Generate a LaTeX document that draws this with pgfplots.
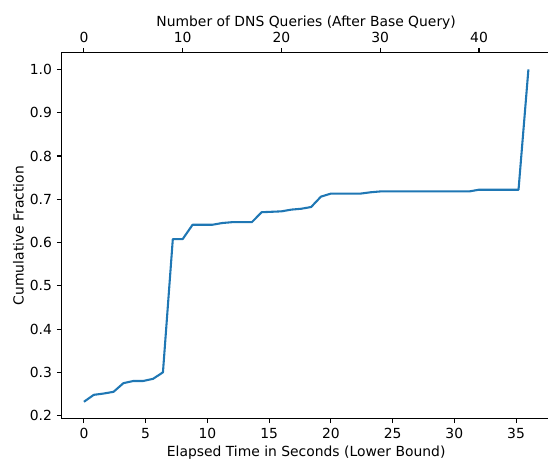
\documentclass[border=0pt]{standalone}
\usepackage{fontspec}
\setmainfont{DejaVu Sans}
\usepackage{pgfplots}
\pgfplotsset{compat=1.18}
\usepackage{pgfplotstable}
\definecolor{mplblue}{HTML}{1F77B4}

\pgfplotstableread{
q t y
0 0.0 0.232
1 0.8 0.248
2 1.6 0.251
3 2.4 0.255
4 3.2 0.275
5 4.0 0.280
6 4.8 0.280
7 5.6 0.285
8 6.4 0.300
9 7.2 0.608
10 8.0 0.608
11 8.8 0.641
12 9.6 0.641
13 10.4 0.641
14 11.2 0.645
15 12.0 0.647
16 12.8 0.647
17 13.6 0.647
18 14.4 0.670
19 15.2 0.671
20 16.0 0.672
21 16.8 0.676
22 17.6 0.678
23 18.4 0.682
24 19.2 0.706
25 20.0 0.713
26 20.8 0.713
27 21.6 0.713
28 22.4 0.713
29 23.2 0.716
30 24.0 0.718
31 24.8 0.718
32 25.6 0.718
33 26.4 0.718
34 27.2 0.718
35 28.0 0.718
36 28.8 0.718
37 29.6 0.718
38 30.4 0.718
39 31.2 0.718
40 32.0 0.722
41 32.8 0.722
42 33.6 0.722
43 34.4 0.722
44 35.2 0.722
45 36.0 1.000
}\data

\begin{document}
\begin{tikzpicture}
\pgfplotsset{
  common/.style={
    scale only axis, width=352pt, height=263.2pt,
    tick align=outside,
    major tick length=3.5pt,
    every tick/.style={line width=0.8pt, black},
    axis line style={line width=0.8pt},
    tick label style={font=\fontsize{10}{12}\selectfont},
    label style={font=\fontsize{10}{12}\selectfont},
    /pgf/number format/assume math mode=true,
  }
}
\begin{axis}[
  common,
  xmin=-1.8, xmax=37.8, ymin=0.1936, ymax=1.0384,
  xtick pos=lower, ytick pos=left,
  xtick={0,5,...,35},
  ytick={0.2,0.3,...,1.0},
  yticklabel style={/pgf/number format/.cd, fixed, fixed zerofill, precision=1},
  xlabel={Elapsed Time in Seconds (Lower Bound)},
  xlabel style={at={(axis description cs:0.5,-0.103)}, anchor=base},
  ylabel={Cumulative Fraction},
  ylabel style={at={(axis description cs:-0.0676,0.5)}, anchor=south, rotate=0},
]
\addplot[color=mplblue, line width=1.5pt, line join=round] table[x=t, y=y] {\data};
\coordinate (sw) at (rel axis cs:0,0);
\end{axis}
\begin{axis}[
  common,
  xmin=-2.25, xmax=47.25, ymin=0.1936, ymax=1.0384,
  axis x line*=top,
  axis y line=none,
  xtick={0,10,...,40},
  xlabel={Number of DNS Queries (After Base Query)},
  xlabel style={at={(axis description cs:0.5,1.0711)}, anchor=base},
]
\addplot[draw=none] table[x=q, y=y] {\data};
\end{axis}
\pgfresetboundingbox
\path[use as bounding box] ([shift={(-44.42pt,-29.3pt)}]sw) rectangle ([shift={(350.1pt,301.2pt)}]sw);
\end{tikzpicture}
\end{document}
